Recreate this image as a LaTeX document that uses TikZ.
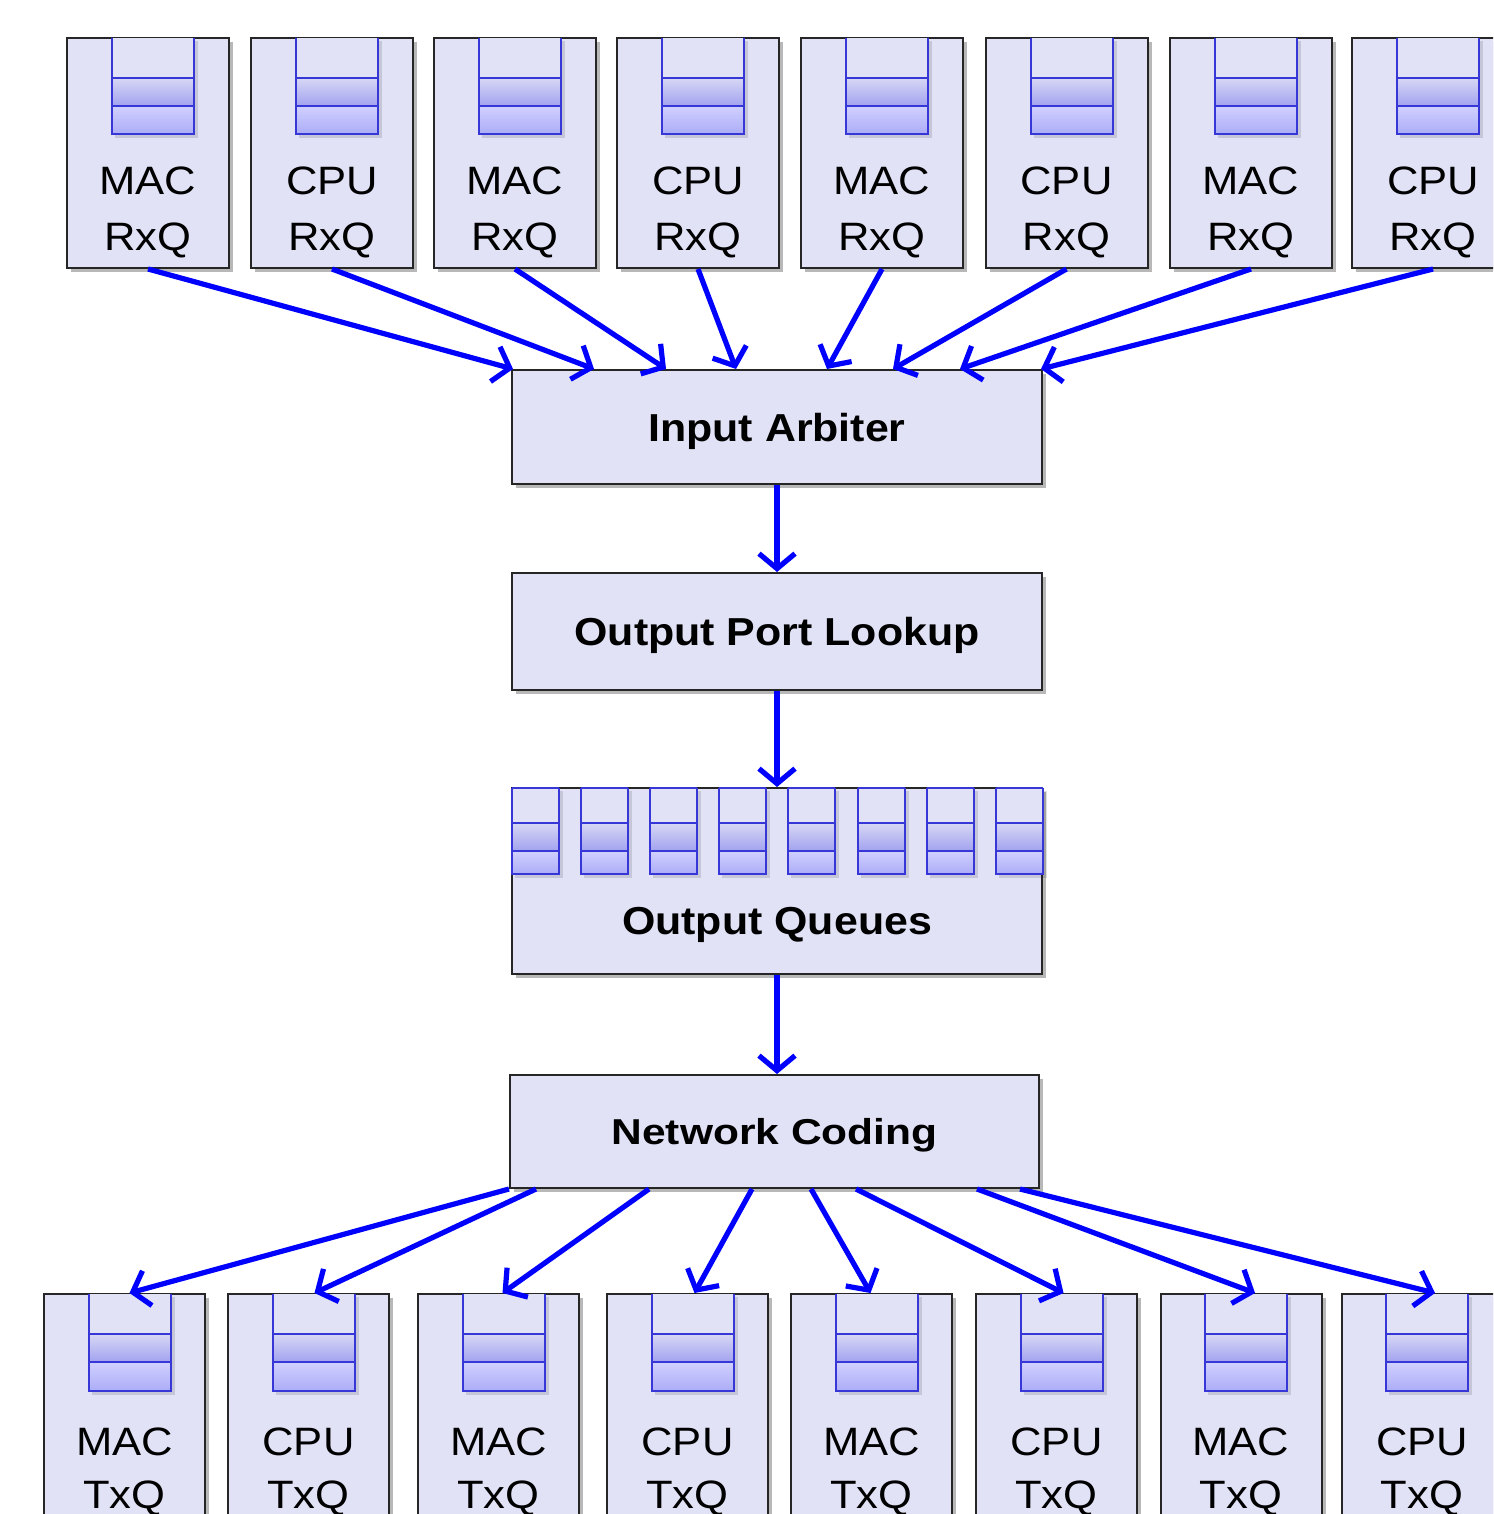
\documentclass[tikz,border=0pt]{standalone}
\usepackage{fontspec}
\newfontfamily\labfont[FakeStretch=1.1]{Liberation Sans}
\newfontfamily\ncfont[FakeStretch=1.18]{Liberation Sans}
\usetikzlibrary{arrows.meta,calc,shadows}

\definecolor{boxbg}{RGB}{225,226,246}
\definecolor{qline}{RGB}{55,55,215}
\definecolor{arrowblue}{RGB}{0,0,255}
\definecolor{qtopA}{RGB}{215,215,245}
\definecolor{qbotA}{RGB}{162,162,240}
\definecolor{qtopB}{RGB}{208,208,255}
\definecolor{qbotB}{RGB}{172,172,248}

\tikzset{
  unitbox/.style={draw=black!85, line width=1pt, fill=boxbg, inner sep=0pt,
    drop shadow={shadow xshift=2pt, shadow yshift=-2pt, opacity=0.28, fill=black}},
  portbox/.style={unitbox, minimum width=81pt, minimum height=115pt},
  txbox/.style={unitbox, minimum width=80.5pt, minimum height=130pt},
  stagebox/.style={unitbox, minimum width=265pt},
  stagetext/.style={font=\labfont\bfseries\fontsize{19.5pt}{23pt}\selectfont, text depth=0pt},
  boxtext/.style={font=\labfont\fontsize{19.8pt}{23pt}\selectfont, anchor=base, inner sep=0pt},
  flow/.style={draw=arrowblue, line width=2.6pt,
    -{Straight Barb[length=7.5pt,width=18pt,line width=2.6pt]}},
  qcell/.style={draw=qline, line width=1pt},
}

% queue icon: left x, top y, width, line1 y, line2 y, bottom y
\newcommand\qicon[6]{%
  \fill[black, opacity=0.12] ({#1+3},{#2+3}) rectangle ({#1+#3+4},{#6+4});
  \fill[boxbg] (#1,#2) rectangle ({#1+#3},#4);
  \shade[top color=qtopA, bottom color=qbotA] (#1,#4) rectangle ({#1+#3},#5);
  \shade[top color=qtopB, bottom color=qbotB] (#1,#5) rectangle ({#1+#3},#6);
  \draw[qcell] (#1,#2) -- (#1,#6) -- ({#1+#3},#6) -- ({#1+#3},#2);
  \draw[qcell] (#1,#4) -- ({#1+#3},#4) (#1,#5) -- ({#1+#3},#5);
}

\begin{document}
\begin{tikzpicture}[x=0.5pt, y=-0.5pt]
\useasboundingbox (0,0) rectangle (1493,1514);
\clip (0,0) rectangle (1493,1514);

% ---- receive queues (top row)
\foreach \i/\cx/\kind in {1/148/MAC, 2/332/CPU, 3/515/MAC, 4/698/CPU,
                          5/882/MAC, 6/1066.5/CPU, 7/1251/MAC, 8/1433/CPU} {
  \node[portbox] (rx\i) at (\cx,153) {};
  \qicon{\cx-36}{38}{82}{78}{106}{134}
  \node[boxtext] (rx\i a) at (\cx,195) {\kind};
  \node[boxtext] (rx\i b) at (\cx,250) {RxQ};
}

% ---- transmit queues (bottom row)
\foreach \i/\cx/\kind in {1/124.5/MAC, 2/308.5/CPU, 3/498.5/MAC, 4/687.5/CPU,
                          5/871.5/MAC, 6/1056.5/CPU, 7/1241/MAC, 8/1422/CPU} {
  \node[txbox] (tx\i) at (\cx,1424) {};
  \qicon{\cx-36}{1294}{82}{1334}{1362}{1391}
  \node[boxtext] (tx\i a) at (\cx,1455) {\kind};
  \node[boxtext] (tx\i b) at (\cx,1508) {TxQ};
}

% ---- pipeline stages
\node[stagebox, minimum height=57pt, stagetext] (ia) at (777,427) {Input Arbiter};
\node[stagebox, minimum height=58.5pt, stagetext] (opl) at (777,631.5) {Output Port Lookup};
\node[stagebox, minimum height=93pt] (oq) at (777,881) {};
\foreach \k in {0,...,7} {
  \qicon{512+69.1*\k}{788}{47}{823}{851}{874}
  \draw[qcell] ({512+69.1*\k},788) -- ({559+69.1*\k},788);
}
\node[stagetext, inner sep=0pt] (oqt) at (777,921) {Output Queues};
\node[unitbox, minimum width=264.5pt, minimum height=56.5pt, text depth=0pt,
      font=\ncfont\bfseries\fontsize{18pt}{22pt}\selectfont] (nc) at (774.5,1131.5) {Network Coding};

% ---- connectors
\foreach \i/\dx in {1/2, 2/83, 3/155, 4/225, 5/316, 6/382, 7/449, 8/530}
  \draw[flow] (rx\i.south) -- ($(ia.north west)+(\dx,0)$);

\draw[flow] (ia.south) -- (opl.north);
\draw[flow] (opl.south) -- (oq.north);
\draw[flow] (oq.south) -- (oq.south |- nc.north);

\foreach \i/\sx/\tx in {1/0/5, 2/27/6, 3/140/4, 4/243/7, 5/302/-1, 6/347/7, 7/468/14, 8/511/13}
  \draw[flow] ($(nc.south west)+(\sx,0)$) -- ($(tx\i.north)+(\tx,0)$);
\end{tikzpicture}
\end{document}
